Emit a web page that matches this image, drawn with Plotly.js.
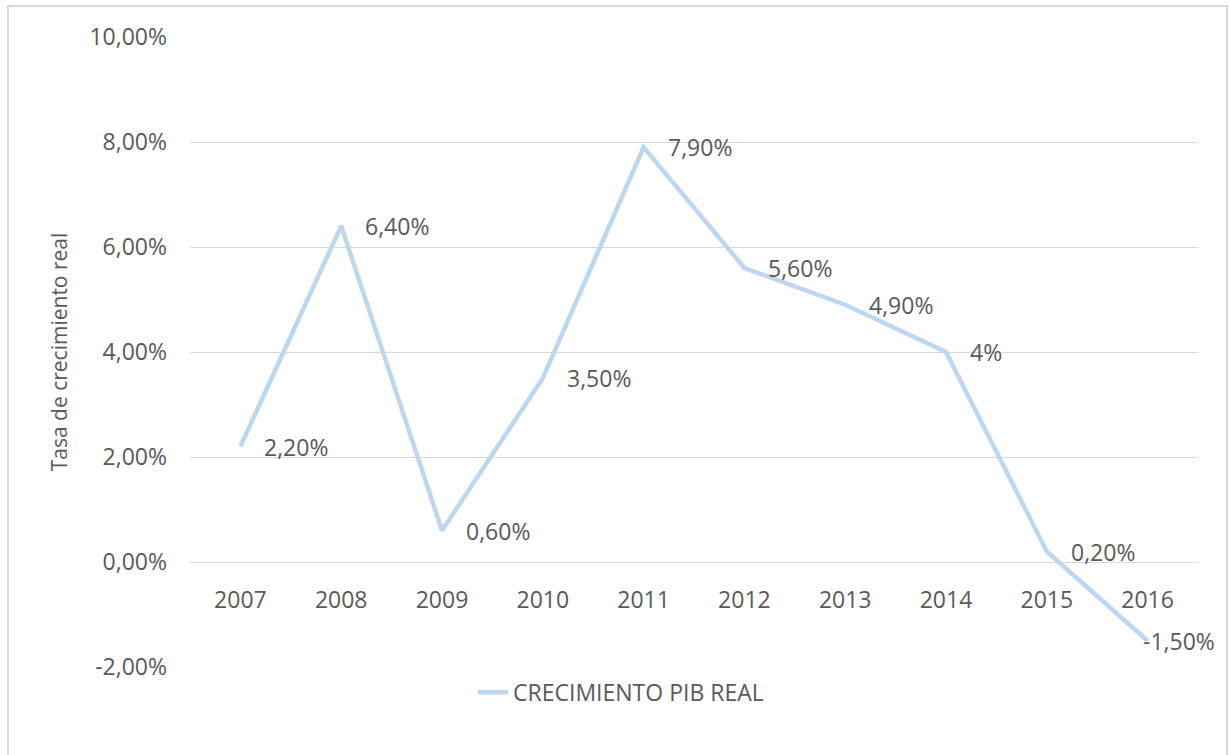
<!DOCTYPE html>
<html>
<head>
<meta charset="utf-8">
<script src="https://cdn.plot.ly/plotly-3.0.1.min.js"></script>
<style>html,body{margin:0;padding:0;background:#fff;} #chart{width:1229px;height:755px;}</style>
</head>
<body>
<div id="chart"></div>
<script>
const years = ['2007','2008','2009','2010','2011','2012','2013','2014','2015','2016'];
const growth = [2.2, 6.4, 0.6, 3.5, 7.9, 5.6, 4.9, 4, 0.2, -1.5];
const labels = ['2,20%','6,40%','0,60%','3,50%','7,90%','5,60%','4,90%','4%','0,20%','-1,50%'];
const yTickVals = [-2, 0, 2, 4, 6, 8, 10];
const yTickText = ['-2,00%','0,00%','2,00%','4,00%','6,00%','8,00%','10,00%'];
const seriesName = 'CRECIMIENTO PIB REAL';

const FONT = 'Open Sans, Liberation Sans, Arial, sans-serif';
const GREY = '#595959';

const annotations = growth.map((v, i) => ({
  x: i, y: v, xref: 'x', yref: 'y',
  text: labels[i], showarrow: false,
  xanchor: 'left', yanchor: 'middle',
  xshift: i === years.length - 1 ? -7 : 22,
  font: {family: FONT, size: 23, color: GREY}
}));
annotations.push({
  xref: 'paper', yref: 'paper', x: -0.1806, y: 1.0587, xanchor: 'left', yanchor: 'bottom',
  text: '<b>Figura</b>', showarrow: false, yshift: 0,
  font: {family: 'Liberation Serif, Times New Roman, serif', size: 18, color: '#000'}
});

const trace = {
  x: years, y: growth, type: 'scatter', mode: 'lines', name: seriesName,
  line: {color: '#BDD7EE', width: 4.5}, hoverinfo: 'skip'
};

const layout = {
  width: 1229, height: 755,
  margin: {l: 190, r: 31, t: 37, b: 88},
  paper_bgcolor: '#fff', plot_bgcolor: '#fff',
  font: {family: FONT, color: GREY, size: 23},
  showlegend: true,
  legend: {orientation: 'h', x: 0.4276, xanchor: 'center', xref: 'paper', y: -0.006, yanchor: 'top',
           font: {family: FONT, size: 23, color: GREY}},
  xaxis: {
    type: 'category', range: [-0.5, 9.5], anchor: 'free', position: 1/6,
    showgrid: false, zeroline: false, showline: false, ticks: '',
    tickfont: {family: FONT, size: 23, color: GREY}, ticklabelstandoff: 22
  },
  yaxis: {
    range: [-2, 10], tickvals: yTickVals, ticktext: yTickText,
    showgrid: true, gridcolor: '#D9D9D9', gridwidth: 1, zeroline: false, showline: false,
    ticks: '', ticklabelstandoff: 22,
    tickfont: {family: FONT, size: 23, color: GREY},
    title: {text: 'Tasa de crecimiento real', font: {family: FONT, size: 21, color: GREY}, standoff: 16}
  },
  annotations: annotations,
  shapes: [{
    type: 'rect', xref: 'paper', yref: 'paper',
    x0: -0.1806, x1: 1.0288, y0: -0.2, y1: 1.0492,
    line: {color: '#D9D9D9', width: 2}, fillcolor: 'rgba(0,0,0,0)', layer: 'below'
  }]
};

Plotly.newPlot('chart', [trace], layout, {displayModeBar: false, staticPlot: true});
</script>
</body>
</html>
